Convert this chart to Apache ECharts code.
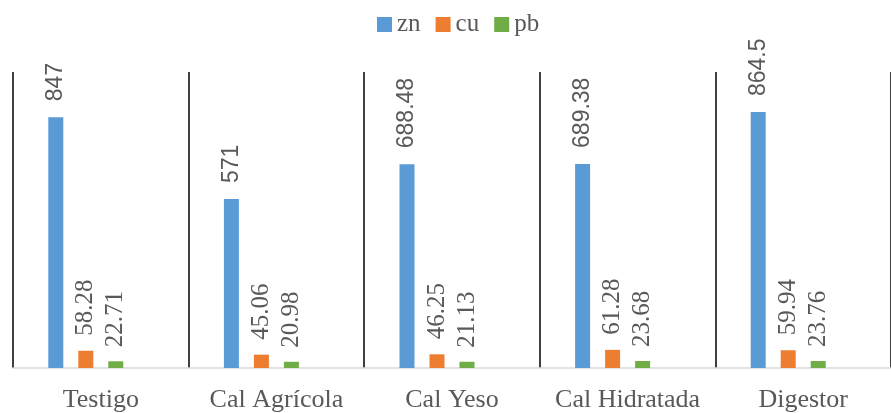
<!DOCTYPE html>
<html>
<head>
<meta charset="utf-8">
<script src="https://cdn.jsdelivr.net/npm/echarts@6/dist/echarts.min.js"></script>
<style>
  html, body { margin: 0; padding: 0; background: #ffffff; }
  #chart { width: 891px; height: 413px; }
</style>
</head>
<body>
<div id="chart"></div>
<script>
// Treatments along the x axis
const categories = ['Testigo', 'Cal Agrícola', 'Cal Yeso', 'Cal Hidratada', 'Digestor'];
// Metal concentrations per treatment
const zn = [847, 571, 688.48, 689.38, 864.5];
const cu = [58.28, 45.06, 46.25, 61.28, 59.94];
const pb = [22.71, 20.98, 21.13, 23.68, 23.76];
const yMin = 0;
const yMax = 1000;

const serif = '"Liberation Serif", "Times New Roman", serif';
const sans = '"Liberation Sans", Arial, sans-serif';

function barSeries(name, data, color, font, size, dist) {
  return {
    name: name,
    type: 'bar',
    data: data,
    barWidth: 15,
    barGap: '100%',
    itemStyle: { color: color },
    label: {
      show: true,
      position: 'top',
      rotate: 90,
      align: 'left',
      verticalAlign: 'middle',
      distance: dist,
      fontFamily: font,
      fontSize: size,
      color: '#595959'
    }
  };
}

const chart = echarts.init(document.getElementById('chart'));
chart.setOption({
  animation: false,
  backgroundColor: '#ffffff',
  legend: {
    data: ['zn', 'cu', 'pb'],
    top: 7,
    left: 372,
    itemWidth: 15,
    itemHeight: 15,
    itemGap: 15,
    icon: 'rect',
    textStyle: { fontFamily: serif, fontSize: 25, color: '#595959' }
  },
  grid: { left: 13, right: -3, top: 72, bottom: 44 },
  xAxis: {
    type: 'category',
    data: categories,
    axisLine: { show: true, lineStyle: { color: '#d9d9d9', width: 1.5 } },
    axisTick: { show: false },
    splitLine: { show: true, lineStyle: { color: '#000000', width: 1.5 } },
    axisLabel: { fontFamily: serif, fontSize: 26, color: '#595959', margin: 19, interval: 0 }
  },
  yAxis: {
    type: 'value',
    min: yMin,
    max: yMax,
    show: false,
    splitLine: { show: false }
  },
  series: [
    barSeries('zn', zn, '#5b9bd5', sans, 23, 16),
    barSeries('cu', cu, '#ed7d31', serif, 25, 15),
    barSeries('pb', pb, '#70ad47', serif, 25, 14),
    { name: 'blank', type: 'bar', data: categories.map(() => null), barWidth: 15, barGap: '100%' }
  ]
});
</script>
</body>
</html>
